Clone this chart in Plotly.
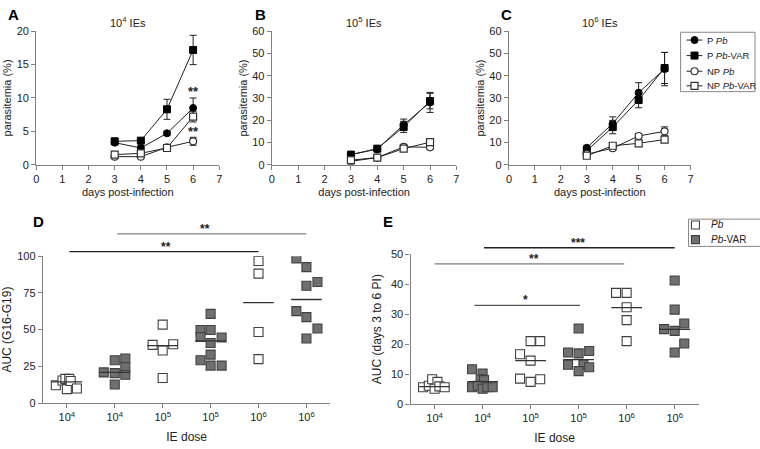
import plotly.graph_objects as go

# ---------------- data: panels A-C (parasitemia %) ----------------
days = [3, 4, 5, 6]
series_names = ["P <i>Pb</i>", "P <i>Pb</i>-VAR", "NP <i>Pb</i>", "NP <i>Pb</i>-VAR"]

a_p_pb = [3.3, 2.5, 4.7, 8.5]
a_p_pb_err = [0.3, 0.3, 0.3, 1.5]
a_p_var = [3.5, 3.6, 8.3, 17.2]
a_p_var_err = [0.4, 0.3, 1.5, 2.2]
a_np_pb = [1.2, 1.2, 2.6, 3.5]
a_np_pb_err = [0.2, 0.2, 0.3, 0.6]
a_np_var = [1.5, 1.7, 2.5, 7.2]
a_np_var_err = [0.3, 0.3, 0.3, 0.8]

b_p_pb = [4.5, 7.0, 18.0, 28.0]
b_p_pb_err = [0.5, 0.8, 2.5, 4.5]
b_p_var = [4.5, 7.2, 17.0, 28.6]
b_p_var_err = [0.5, 0.7, 2.5, 3.5]
b_np_pb = [1.5, 3.2, 8.0, 7.8]
b_np_pb_err = [0.3, 0.4, 0.8, 1.0]
b_np_var = [2.0, 3.2, 7.2, 10.1]
b_np_var_err = [0.3, 0.4, 0.8, 1.0]

c_p_pb = [7.6, 18.5, 32.4, 43.0]
c_p_pb_err = [1.0, 3.0, 4.5, 7.5]
c_p_var = [6.3, 16.9, 29.1, 43.5]
c_p_var_err = [1.0, 3.0, 3.5, 7.0]
c_np_pb = [4.7, 7.4, 12.9, 15.0]
c_np_pb_err = [0.8, 1.0, 1.0, 2.0]
c_np_var = [4.0, 8.5, 9.6, 11.3]
c_np_var_err = [0.8, 1.0, 1.0, 1.2]

panel_titles = ["10<sup>4</sup> IEs", "10<sup>5</sup> IEs", "10<sup>6</sup> IEs"]
a_stars = ["**", "**"]
a_star_y = [11.0, 4.9]

# ---------------- data: panels D-E (AUC per mouse) ----------------
dose_labels = ["10<sup>4</sup>", "10<sup>4</sup>", "10<sup>5</sup>", "10<sup>5</sup>", "10<sup>6</sup>", "10<sup>6</sup>"]
group_is_var = [False, True, False, True, False, True]
group_names = ["<i>Pb</i>", "<i>Pb</i>-VAR"]

d_vals = [
    [12.1, 15.4, 16.5, 16.5, 9.5, 15.0, 9.9],
    [20.9, 29.2, 20.4, 12.7, 30.3, 24.4, 19.3],
    [39.6, 53.4, 35.8, 17.1, 40.0],
    [60.7, 49.7, 45.0, 49.7, 40.9, 44.6, 33.0, 29.2, 25.5, 25.5],
    [96.7, 88.1, 48.4, 29.9],
    [98.5, 92.5, 79.8, 82.4, 62.6, 58.5, 50.8, 44.0],
]
d_jitter = [
    [-0.23, -0.09, -0.03, 0.05, 0.0, 0.08, 0.21],
    [-0.23, 0.0, 0.0, 0.0, 0.22, 0.22, 0.22],
    [-0.21, 0.0, 0.0, 0.0, 0.22],
    [0.0, -0.21, -0.21, 0.0, 0.0, 0.23, 0.0, -0.21, 0.0, 0.23],
    [0.0, 0.0, 0.0, 0.0],
    [-0.21, 0.0, 0.0, 0.23, -0.21, 0.0, 0.23, 0.0],
]
d_median = [14.5, 20.9, 39.1, 42.4, 68.4, 70.5]

e_vals = [
    [5.6, 6.1, 8.3, 7.4, 5.1, 5.9, 5.6],
    [11.6, 10.2, 8.3, 8.0, 5.6, 6.1, 5.1, 5.6, 5.6],
    [16.6, 21.0, 21.0, 14.5, 8.5, 7.4, 8.3],
    [25.2, 17.2, 16.9, 17.7, 13.1, 13.1, 12.3, 11.0],
    [37.1, 37.1, 32.3, 28.0, 21.0],
    [41.2, 31.5, 26.9, 25.0, 24.4, 20.2, 17.2],
]
e_jitter = [
    [-0.24, -0.12, -0.05, 0.06, 0.0, 0.1, 0.21],
    [-0.22, 0.0, -0.04, 0.03, -0.22, -0.1, 0.0, 0.1, 0.21],
    [-0.22, 0.0, 0.2, 0.0, -0.22, 0.0, 0.2],
    [0.0, -0.22, 0.0, 0.22, -0.22, 0.1, 0.22, 0.0],
    [-0.22, 0.0, 0.0, 0.0, 0.0],
    [0.0, 0.0, 0.2, -0.22, 0.0, 0.2, 0.0],
]
e_median = [5.8, 7.5, 14.5, 14.8, 32.2, 24.9]

# significance bars: (from group, to group, label)
d_sig = [(1.05, 5.0, "**"), (2.05, 6.0, "**")]
d_sig_star_x = [3.06, 3.88]
e_sig = [(2.03, 6.0, "***"), (1.0, 4.95, "**"), (1.83, 4.03, "*")]
e_sig_star_x = [3.98, 3.07, 2.9]

# ---------------- figure ----------------
FONT = "Liberation Sans, Arial, sans-serif"
TXT = "#222222"
AX = "#808080"
W, H = 760, 449

fig = go.Figure()

marker_styles = [
    dict(symbol="circle", color="black", line=dict(color="black", width=1)),
    dict(symbol="square", color="black", line=dict(color="black", width=1)),
    dict(symbol="circle", color="white", line=dict(color="#333333", width=1.2)),
    dict(symbol="square", color="white", line=dict(color="#333333", width=1.2)),
]
sq_fill = ["white", "#707070"]

panels = [
    ([a_p_pb, a_p_var, a_np_pb, a_np_var], [a_p_pb_err, a_p_var_err, a_np_pb_err, a_np_var_err]),
    ([b_p_pb, b_p_var, b_np_pb, b_np_var], [b_p_pb_err, b_p_var_err, b_np_pb_err, b_np_var_err]),
    ([c_p_pb, c_p_var, c_np_pb, c_np_var], [c_p_pb_err, c_p_var_err, c_np_pb_err, c_np_var_err]),
]

for p, (vals, errs) in enumerate(panels):
    ax = "" if p == 0 else str(p + 1)
    for s in range(4):
        fig.add_trace(go.Scatter(
            x=days, y=vals[s], mode="lines+markers",
            name=series_names[s], showlegend=False,
            line=dict(color="#222222", width=1),
            marker=dict(size=7, **marker_styles[s]),
            error_y=dict(type="data", array=errs[s], visible=True,
                         color="#222222", thickness=1, width=3.5),
            xaxis="x" + ax, yaxis="y" + ax,
        ))


def add_scatter_panel(vals, jit, med, ax):
    for k, is_var in enumerate((False, True)):
        xs, ys = [], []
        for g, (v, j) in enumerate(zip(vals, jit)):
            if group_is_var[g] != is_var:
                continue
            xs += [g + 1 + jj for jj in j]
            ys += v
        fig.add_trace(go.Scatter(
            x=xs, y=ys, mode="markers", name=group_names[k], showlegend=False,
            marker=dict(symbol="square", size=9, color=sq_fill[k],
                        line=dict(color="#404040", width=1.1)),
            xaxis="x" + ax, yaxis="y" + ax,
        ))
    mx, my = [], []
    for g, m in enumerate(med):
        mx += [g + 1 - 0.32, g + 1 + 0.32, None]
        my += [m, m, None]
    fig.add_trace(go.Scatter(x=mx, y=my, mode="lines", showlegend=False,
                             line=dict(color="#333333", width=1.3),
                             xaxis="x" + ax, yaxis="y" + ax, hoverinfo="skip"))


add_scatter_panel(d_vals, d_jitter, d_median, "4")
add_scatter_panel(e_vals, e_jitter, e_median, "5")

# ---- hand-built legends (small boxes, like the original) ----
leg_c_rows = [0.869, 0.607, 0.344, 0.098]
for s in range(4):
    fig.add_trace(go.Scatter(x=[0.08, 0.293], y=[leg_c_rows[s]] * 2, mode="lines",
                             line=dict(color="#222222", width=1), showlegend=False,
                             xaxis="x6", yaxis="y6", hoverinfo="skip"))
    fig.add_trace(go.Scatter(x=[0.187], y=[leg_c_rows[s]], mode="markers",
                             marker=dict(size=7, **marker_styles[s]), showlegend=False,
                             xaxis="x6", yaxis="y6", hoverinfo="skip"))
leg_e_rows = [0.786, 0.25]
for k in range(2):
    fig.add_trace(go.Scatter(x=[0.101], y=[leg_e_rows[k]], mode="markers",
                             marker=dict(symbol="square", size=8, color=sq_fill[k],
                                         line=dict(color="#404040", width=1.1)),
                             showlegend=False, xaxis="x7", yaxis="y7", hoverinfo="skip"))


def px_x(a, b):
    return [a / W, b / W]


def px_y(bottom, top):
    return [1 - bottom / H, 1 - top / H]


axis_common = dict(showline=True, linecolor=AX, linewidth=1.3, ticks="outside",
                   ticklen=4, tickwidth=1.2, tickcolor=AX, showgrid=False,
                   zeroline=False, tickfont=dict(size=11, color=TXT, family=FONT))

title_font = dict(size=11, color=TXT, family=FONT)
title_font12 = dict(size=12, color=TXT, family=FONT)

layout = dict(
    width=W, height=H, margin=dict(l=0, r=0, t=0, b=0),
    paper_bgcolor="white", plot_bgcolor="white",
    font=dict(family=FONT, color=TXT), showlegend=False,
)

abc_x = [(33.5, 218), (271, 457), (510, 693)]
abc_yr = [20, 60, 60]
abc_dt = [5, 10, 10]
for p in range(3):
    ax = "" if p == 0 else str(p + 1)
    layout["xaxis" + ax] = dict(axis_common, domain=px_x(*abc_x[p]), range=[0, 7], dtick=1,
                                anchor="y" + ax,
                                title=dict(text="days post-infection", font=title_font, standoff=4))
    layout["yaxis" + ax] = dict(axis_common, domain=px_y(163, 26), range=[0, abc_yr[p]],
                                dtick=abc_dt[p], anchor="x" + ax,
                                title=dict(text="parasitemia (%)", font=title_font, standoff=2))

layout["xaxis4"] = dict(axis_common, domain=px_x(40.2, 330), range=[0.5, 6.5],
                        tickvals=[1, 2, 3, 4, 5, 6], ticktext=dose_labels, anchor="y4",
                        title=dict(text="IE dose", font=title_font12, standoff=10))
layout["yaxis4"] = dict(axis_common, domain=px_y(408, 257), range=[0, 100], dtick=25,
                        anchor="x4",
                        title=dict(text="AUC (G16-G19)", font=title_font12, standoff=6))
layout["xaxis5"] = dict(axis_common, domain=px_x(410.8, 701.2), range=[0.5, 6.5],
                        tickvals=[1, 2, 3, 4, 5, 6], ticktext=dose_labels, anchor="y5",
                        title=dict(text="IE dose", font=title_font12, standoff=10))
layout["yaxis5"] = dict(axis_common, domain=px_y(409, 255), range=[0, 50], dtick=10,
                        anchor="x5",
                        title=dict(text="AUC (days 3 to 6 PI)", font=title_font12, standoff=6))

hidden = dict(visible=False, range=[0, 1], fixedrange=True)
layout["xaxis6"] = dict(hidden, domain=px_x(683, 758), anchor="y6")
layout["yaxis6"] = dict(hidden, domain=px_y(88, 27), anchor="x6")
layout["xaxis7"] = dict(hidden, domain=px_x(691, 760), anchor="y7")
layout["yaxis7"] = dict(hidden, domain=px_y(247, 219), anchor="x7")

annotations = []
shapes = []

# legend boxes and texts
shapes.append(dict(type="rect", xref="x6 domain", yref="y6 domain", x0=0, x1=1, y0=0, y1=1,
                   line=dict(color="#888888", width=1)))
for s in range(4):
    annotations.append(dict(text=series_names[s], x=0.333, y=leg_c_rows[s], xref="x6", yref="y6",
                            xanchor="left", yanchor="middle", showarrow=False,
                            font=dict(size=9.5, color=TXT, family=FONT)))
shapes.append(dict(type="rect", xref="x7 domain", yref="y7 domain", x0=0, x1=1.1, y0=0, y1=1,
                   line=dict(color="#888888", width=1)))
for k in range(2):
    annotations.append(dict(text=group_names[k], x=0.304, y=leg_e_rows[k], xref="x7", yref="y7",
                            xanchor="left", yanchor="middle", showarrow=False,
                            font=dict(size=10, color=TXT, family=FONT)))

# panel letters
for letter, lx, ly in [("A", 3, 9), ("B", 252, 9), ("C", 500, 9), ("D", 28, 221), ("E", 381, 221)]:
    annotations.append(dict(text="<b>%s</b>" % letter, x=lx / W, y=1 - ly / H, xref="paper", yref="paper",
                            xanchor="left", yanchor="middle", showarrow=False,
                            font=dict(size=15, color="black", family=FONT)))
# panel titles
for p in range(3):
    ax = "" if p == 0 else str(p + 1)
    annotations.append(dict(text=panel_titles[p], x=0.5, y=1.07, xref="x%s domain" % ax,
                            yref="y%s domain" % ax, showarrow=False, yanchor="middle",
                            font=dict(size=11, color=TXT, family=FONT)))
# stars in A
for s, yv in zip(a_stars, a_star_y):
    annotations.append(dict(text="<b>%s</b>" % s, x=6, y=yv, xref="x", yref="y", showarrow=False,
                            yanchor="middle", font=dict(size=13, color=TXT, family=FONT)))

d_levels = [1.031, 1.152]
d_colors = ["#222222", "#808080"]
for (x0, x1, lab), lv, sx, col in zip(d_sig, d_levels, d_sig_star_x, d_colors):
    shapes.append(dict(type="line", x0=x0, x1=x1, y0=lv, y1=lv, xref="x4", yref="y4 domain",
                       line=dict(color=col, width=1.3)))
    annotations.append(dict(text="<b>%s</b>" % lab, x=sx, y=lv, xref="x4", yref="y4 domain",
                            showarrow=False, yanchor="bottom", yshift=-4,
                            font=dict(size=12, color=TXT, family=FONT)))
e_levels = [1.043, 0.935, 0.658]
e_colors = ["#222222", "#808080", "#555555"]
for (x0, x1, lab), lv, sx, col in zip(e_sig, e_levels, e_sig_star_x, e_colors):
    shapes.append(dict(type="line", x0=x0, x1=x1, y0=lv, y1=lv, xref="x5", yref="y5 domain",
                       line=dict(color=col, width=1.3)))
    annotations.append(dict(text="<b>%s</b>" % lab, x=sx, y=lv, xref="x5", yref="y5 domain",
                            showarrow=False, yanchor="bottom", yshift=-4,
                            font=dict(size=12, color=TXT, family=FONT)))

layout["annotations"] = annotations
layout["shapes"] = shapes
fig.update_layout(**layout)

fig.write_html("out.html", config={"displayModeBar": False},
               post_script="document.body.style.margin='0';")
